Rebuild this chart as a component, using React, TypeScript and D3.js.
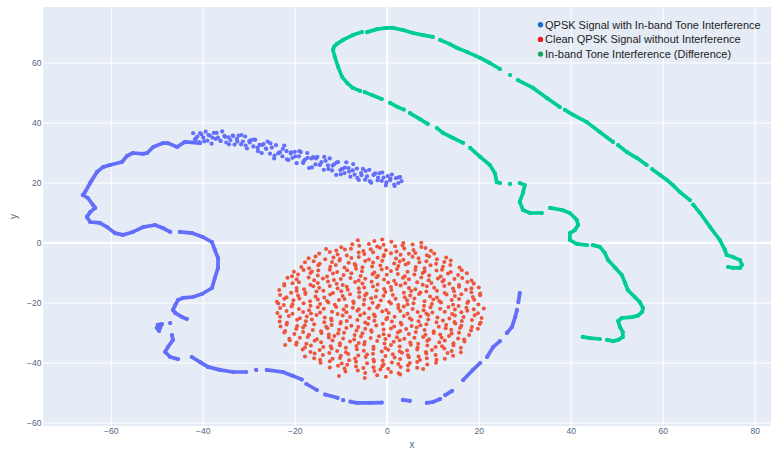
import React from "react";
import * as d3 from "d3";

type Pt = [number, number];

// Axis ticks
const xTicks = [-60, -40, -20, 0, 20, 40, 60, 80];
const yTicks = [-60, -40, -20, 0, 20, 40, 60];

// Legend entries
const seriesNames = [
  "QPSK Signal with In-band Tone Interference",
  "Clean QPSK Signal without Interference",
  "In-band Tone Interference (Difference)",
];
const legendColors = ["#1a6fcc", "#e81a1a", "#14a85a"];
const traceColors = ["#636EFA", "#EF553B", "#00CC96"];

// Interfered signal: dense band of scattered symbols near the top
const blueBand: Pt[] = [
  [-42.2, 36.6], [-41.8, 34.6], [-41.3, 35.5], [-40.9, 33.6], [-40.4, 36.2], [-40.0, 35.1], [-39.5, 37.1], [-39.1, 34.1],
  [-38.6, 35.8], [-38.2, 33.1], [-37.7, 36.7], [-37.3, 34.7], [-36.8, 35.1], [-36.3, 34.1], [-35.9, 37.2], [-35.4, 35.7],
  [-35.0, 33.5], [-34.5, 35.2], [-34.1, 34.3], [-33.6, 35.8], [-33.2, 32.8], [-32.7, 34.7], [-32.3, 35.8], [-31.8, 32.9],
  [-31.4, 33.8], [-30.9, 35.5], [-30.5, 31.5], [-30.0, 34.0], [-29.6, 34.3], [-29.1, 32.2], [-28.7, 34.4], [-28.2, 31.7],
  [-27.8, 32.7], [-27.3, 30.0], [-26.9, 33.0], [-26.4, 31.5], [-26.0, 33.8], [-25.5, 29.8], [-25.1, 31.8], [-24.6, 28.2],
  [-24.2, 32.6], [-23.7, 29.9], [-23.3, 30.3], [-22.8, 28.9], [-22.4, 32.5], [-21.9, 30.6], [-21.5, 27.7], [-21.0, 29.8],
  [-20.6, 28.4], [-20.1, 30.4], [-19.7, 26.6], [-19.2, 28.9], [-18.8, 30.3], [-18.3, 26.7], [-17.9, 27.8], [-17.4, 30.0],
  [-17.0, 25.0], [-16.5, 28.2], [-16.1, 28.6], [-15.6, 26.2], [-15.2, 28.7], [-14.7, 26.0], [-14.3, 27.0], [-13.8, 24.4],
  [-13.4, 27.4], [-12.9, 25.9], [-12.5, 28.2], [-12.0, 24.2], [-11.6, 26.2], [-11.1, 22.7], [-10.7, 27.0], [-10.2, 24.3],
  [-9.8, 24.7], [-9.3, 23.3], [-8.9, 26.9], [-8.4, 25.0], [-8.0, 22.1], [-7.5, 24.2], [-7.1, 22.8], [-6.6, 24.8],
  [-6.2, 21.0], [-5.7, 23.3], [-5.3, 24.7], [-4.8, 21.1], [-4.4, 22.2], [-3.9, 24.4], [-3.5, 20.1], [-3.0, 22.7],
  [-2.6, 23.2], [-2.1, 20.9], [-1.7, 23.3], [-1.2, 20.7], [-0.8, 21.8], [-0.3, 19.2], [0.1, 22.3], [0.6, 20.9],
  [1.0, 22.8], [1.5, 19.5], [1.9, 21.6], [2.4, 20.0], [2.8, 22.0], [3.1, 20.6],
  [-41.6, 34.8], [-40.7, 36.6], [-39.8, 33.9], [-38.9, 36.0], [-38.0, 35.1], [-37.1, 36.7], [-36.2, 34.0], [-35.3, 35.4],
  [-34.4, 32.9], [-33.5, 35.7], [-32.6, 33.8], [-31.7, 36.0], [-30.8, 32.5], [-29.9, 33.5], [-29.0, 34.5], [-28.1, 30.6],
  [-27.2, 32.7], [-26.3, 31.4], [-25.4, 33.2], [-24.5, 29.1], [-23.6, 30.0], [-22.7, 31.4], [-21.8, 27.9], [-20.9, 30.2],
  [-20.0, 28.9], [-19.1, 30.6], [-18.2, 27.2], [-17.3, 28.4], [-16.4, 25.2], [-15.5, 28.2], [-14.6, 26.2], [-13.7, 28.7],
  [-12.8, 24.7], [-11.9, 25.8], [-11.0, 26.8], [-10.1, 22.9], [-9.2, 25.1], [-8.3, 23.8], [-7.4, 26.3], [-6.5, 21.7],
  [-5.6, 22.6], [-4.7, 24.0], [-3.8, 20.6], [-2.9, 22.9], [-2.0, 21.8], [-1.1, 23.5], [-0.2, 20.2], [0.7, 21.5],
  [1.6, 19.0], [2.5, 21.9],
];

// Interfered signal: trajectory pieces
const blueRuns: Pt[][] = [
  [[-40.7, 33.3], [-44.0, 33.7], [-45.7, 32.0], [-47.7, 33.3], [-48.8, 33.3], [-50.9, 32.0], [-52.2, 30.0], [-53.1, 29.7],
   [-55.3, 30.0], [-56.6, 29.0], [-57.7, 27.0], [-60.3, 26.0], [-61.8, 25.3], [-63.1, 23.7], [-64.2, 21.0], [-64.6, 20.0],
   [-65.7, 17.0], [-66.2, 16.0], [-65.1, 15.0], [-64.0, 12.7], [-63.5, 11.7], [-64.6, 10.3], [-65.3, 8.7], [-64.6, 7.0],
   [-62.5, 6.7], [-60.9, 5.3], [-59.2, 3.3], [-57.5, 2.7], [-55.3, 3.7], [-53.1, 5.3], [-50.5, 6.0], [-48.8, 5.0], [-47.2, 3.7]],
  [[-45.1, 3.7], [-42.5, 3.3], [-40.1, 2.0], [-38.1, 0.3], [-37.5, -2.3], [-36.8, -5.0], [-36.8, -8.3], [-37.5, -11.7],
   [-38.1, -15.0], [-40.3, -17.0], [-42.3, -18.0], [-44.4, -18.3], [-45.5, -19.0], [-46.1, -20.7], [-46.6, -22.3],
   [-46.1, -23.3], [-44.6, -24.7], [-43.6, -25.3]],
  [[-49.9, -27.3], [-49.0, -27.0], [-49.4, -28.3], [-50.1, -28.3], [-49.6, -29.3]],
  [[-47.2, -26.7]],
  [[-46.8, -30.7], [-46.6, -32.3], [-47.7, -34.7], [-48.3, -36.3], [-47.2, -38.0], [-45.5, -38.7]],
  [[-42.5, -38.0], [-40.7, -39.7], [-39.0, -41.3], [-36.4, -42.3], [-33.5, -43.0], [-30.7, -43.0]],
  [[-28.5, -42.3]],
  [[-26.2, -42.3], [-22.7, -43.0], [-20.5, -44.3], [-18.6, -45.5]],
  [[-17.6, -47.0], [-15.3, -49.0]],
  [[-13.5, -50.5], [-10.8, -51.6]],
  [[-9.6, -52.4]],
  [[-8.0, -52.9], [-6.6, -53.3], [-3.8, -53.3], [-1.2, -53.2]],
  [[3.4, -52.3], [4.9, -52.6]],
  [[8.6, -53.3], [9.9, -53.0], [11.5, -52.0]],
  [[12.6, -50.7], [14.1, -49.3]],
  [[16.5, -45.7], [18.6, -42.3], [20.2, -40.0]],
  [[21.7, -38.0], [23.0, -34.7], [24.5, -32.7]],
  [[26.0, -30.0], [27.1, -28.0], [27.8, -24.7], [28.2, -22.3]],
  [[28.5, -19.7], [28.8, -16.7]],
];

// Clean constellation cloud, listed roughly top to bottom
const cleanPoints: Pt[] = [
  [-6.4, 0.9], [-2.8, 0.7], [-1.1, 1.2], [0.9, 0.4], [3.5, 0.0], [7.4, 0.1],
  [-10.0, -1.4], [-7.6, -0.4], [-6.1, -0.9], [-4.0, -0.3], [-2.2, -1.2], [-0.8, -0.6], [1.7, -1.1], [3.3, -0.8], [5.5, -0.5], [7.4, -1.3],
  [-13.3, -2.0], [-11.1, -2.5], [-9.2, -2.2], [-7.9, -1.9], [-5.2, -2.7], [-3.6, -2.1], [-1.6, -1.6], [-0.3, -2.4], [2.0, -2.8], [3.7, -1.8], [5.7, -2.3], [8.3, -1.7], [9.5, -2.6],
  [-14.8, -3.5], [-12.5, -3.0], [-10.8, -3.8], [-8.8, -4.2], [-6.2, -3.2], [-5.0, -3.7], [-3.1, -3.1], [-0.7, -4.0], [0.8, -3.4], [2.9, -3.9], [4.7, -3.6], [6.1, -3.3], [8.6, -4.1], [10.2, -3.5],
  [-17.1, -5.1], [-15.6, -4.5], [-13.5, -5.4], [-11.7, -4.8], [-10.3, -5.3], [-7.8, -5.0], [-6.2, -4.7], [-4.0, -5.5], [-2.1, -4.9], [-0.8, -4.4], [1.9, -5.2], [3.5, -5.6], [5.5, -4.6], [6.8, -5.1], [9.1, -4.5], [10.8, -5.4], [12.8, -4.8],
  [-17.9, -6.4], [-16.0, -6.1], [-14.7, -6.9], [-12.0, -6.3], [-10.4, -5.8], [-8.4, -6.6], [-7.1, -7.0], [-4.8, -6.0], [-3.1, -6.5], [-1.1, -5.9], [1.5, -6.8], [2.7, -6.2], [4.6, -6.7], [7.0, -6.4], [8.5, -6.1], [10.6, -6.9], [12.4, -6.3], [13.8, -5.8],
  [-18.7, -8.0], [-17.0, -8.4], [-15.0, -7.4], [-12.4, -7.9], [-11.2, -7.3], [-9.3, -8.2], [-6.9, -7.6], [-5.4, -8.1], [-3.3, -7.8], [-1.5, -7.5], [-0.1, -8.3], [2.4, -7.7], [4.0, -7.2], [6.2, -8.0], [8.1, -8.4], [9.4, -7.4], [12.1, -7.9], [13.7, -7.3], [15.7, -8.2],
  [-20.3, -9.6], [-18.2, -9.0], [-16.4, -9.5], [-15.0, -9.2], [-12.5, -8.9], [-10.9, -9.7], [-8.7, -9.1], [-6.8, -8.6], [-5.5, -9.4], [-2.8, -9.8], [-1.2, -8.8], [0.8, -9.3], [2.1, -8.7], [4.4, -9.6], [6.1, -9.0], [8.1, -9.5], [10.7, -9.2], [11.9, -8.9], [13.8, -9.7], [16.2, -9.1],
  [-20.7, -11.1], [-19.4, -10.5], [-16.7, -10.0], [-15.1, -10.8], [-13.1, -11.2], [-11.8, -10.2], [-9.5, -10.7], [-7.8, -10.1], [-5.8, -11.0], [-3.2, -10.4], [-2.0, -10.9], [-0.1, -10.6], [2.3, -10.3], [3.8, -11.1], [5.9, -10.5], [7.7, -10.0], [9.1, -10.8], [11.6, -11.2], [13.2, -10.2], [15.4, -10.7], [17.3, -10.1],
  [-21.7, -11.6], [-19.7, -12.1], [-17.1, -11.5], [-15.9, -12.4], [-14.0, -11.8], [-11.6, -12.3], [-10.1, -12.0], [-8.0, -11.7], [-6.2, -12.5], [-4.8, -11.9], [-2.3, -11.4], [-0.7, -12.2], [1.5, -12.6], [3.4, -11.6], [4.7, -12.1], [7.4, -11.5], [9.0, -12.4], [11.0, -11.8], [12.3, -12.3], [14.6, -12.0], [16.3, -11.7], [18.3, -12.5],
  [-22.4, -13.7], [-20.6, -13.4], [-19.2, -13.1], [-16.7, -13.9], [-15.1, -13.3], [-12.9, -12.8], [-11.0, -13.6], [-9.7, -14.0], [-7.0, -13.0], [-5.4, -13.5], [-3.4, -12.9], [-2.1, -13.8], [0.2, -13.2], [1.9, -13.7], [3.9, -13.4], [6.5, -13.1], [7.7, -13.9], [9.6, -13.3], [12.0, -12.8], [13.5, -13.6], [15.6, -14.0], [17.4, -13.0], [18.8, -13.5],
  [-22.4, -14.2], [-19.7, -15.0], [-18.1, -15.4], [-16.1, -14.4], [-14.8, -14.9], [-12.5, -14.3], [-10.8, -15.2], [-8.8, -14.6], [-6.2, -15.1], [-5.0, -14.8], [-3.1, -14.5], [-0.7, -15.3], [0.8, -14.7], [2.9, -14.2], [4.7, -15.0], [6.1, -15.4], [8.6, -14.4], [10.2, -14.9], [12.4, -14.3], [14.3, -15.2], [15.6, -14.6], [18.3, -15.1], [19.9, -14.8],
  [-23.5, -15.7], [-20.9, -16.6], [-19.7, -16.0], [-17.8, -16.5], [-15.4, -16.2], [-13.9, -15.9], [-11.8, -16.7], [-10.0, -16.1], [-8.6, -15.6], [-6.1, -16.4], [-4.5, -16.8], [-2.3, -15.8], [-0.4, -16.3], [0.9, -15.7], [3.6, -16.6], [5.2, -16.0], [7.2, -16.5], [8.5, -16.2], [10.8, -15.9], [12.5, -16.7], [14.5, -16.1], [17.1, -15.6], [18.3, -16.4], [20.2, -16.8],
  [-23.3, -17.3], [-21.9, -18.1], [-19.4, -17.5], [-17.8, -17.0], [-15.6, -17.8], [-13.7, -18.2], [-12.4, -17.2], [-9.7, -17.7], [-8.1, -17.1], [-6.1, -18.0], [-4.8, -17.4], [-2.5, -17.9], [-0.8, -17.6], [1.2, -17.3], [3.8, -18.1], [5.0, -17.5], [6.9, -17.0], [9.3, -17.8], [10.8, -18.2], [12.9, -17.2], [14.7, -17.7], [16.1, -17.1], [18.6, -18.0], [20.2, -17.4],
  [-24.0, -19.6], [-22.4, -18.6], [-20.4, -19.1], [-19.1, -18.5], [-16.8, -19.4], [-15.1, -18.8], [-13.1, -19.3], [-10.5, -19.0], [-9.3, -18.7], [-7.4, -19.5], [-5.0, -18.9], [-3.5, -18.4], [-1.4, -19.2], [0.4, -19.6], [1.8, -18.6], [4.3, -19.1], [5.9, -18.5], [8.1, -19.4], [10.0, -18.8], [11.3, -19.3], [14.0, -19.0], [15.6, -18.7], [17.6, -19.5], [18.9, -18.9],
  [-23.7, -20.2], [-22.5, -20.7], [-20.6, -20.4], [-18.2, -20.1], [-16.7, -20.9], [-14.6, -20.3], [-12.8, -19.8], [-11.4, -20.6], [-8.9, -21.0], [-7.3, -20.0], [-5.1, -20.5], [-3.2, -19.9], [-1.9, -20.8], [0.8, -20.2], [2.4, -20.7], [4.4, -20.4], [5.7, -20.1], [8.0, -20.9], [9.7, -20.3], [11.7, -19.8], [14.3, -20.6], [15.5, -21.0], [17.4, -20.0], [19.8, -20.5],
  [-23.3, -21.7], [-20.8, -21.2], [-19.2, -22.0], [-17.0, -22.4], [-15.1, -21.4], [-13.8, -21.9], [-11.1, -21.3], [-9.5, -22.2], [-7.5, -21.6], [-6.2, -22.1], [-3.9, -21.8], [-2.2, -21.5], [-0.2, -22.3], [2.4, -21.7], [3.6, -21.2], [5.5, -22.0], [7.9, -22.4], [9.4, -21.4], [11.5, -21.9], [13.3, -21.3], [14.7, -22.2], [17.2, -21.6], [18.8, -22.1], [21.0, -21.8],
  [-23.9, -23.3], [-21.9, -22.7], [-20.6, -23.6], [-18.3, -23.0], [-16.6, -23.5], [-14.6, -23.2], [-12.0, -22.9], [-10.8, -23.7], [-8.9, -23.1], [-6.5, -22.6], [-5.0, -23.4], [-2.9, -23.8], [-1.1, -22.8], [0.3, -23.3], [2.8, -22.7], [4.4, -23.6], [6.6, -23.0], [8.5, -23.5], [9.8, -23.2], [12.5, -22.9], [14.1, -23.7], [16.1, -23.1], [17.4, -22.6], [19.7, -23.4],
  [-23.3, -24.6], [-21.4, -24.3], [-19.0, -25.1], [-17.5, -24.5], [-15.4, -24.0], [-13.6, -24.8], [-12.2, -25.2], [-9.7, -24.2], [-8.1, -24.7], [-5.9, -24.1], [-4.0, -25.0], [-2.7, -24.4], [0.0, -24.9], [1.6, -24.6], [3.6, -24.3], [4.9, -25.1], [7.2, -24.5], [8.9, -24.0], [10.9, -24.8], [13.5, -25.2], [14.7, -24.2], [16.6, -24.7], [19.0, -24.1], [20.5, -25.0],
  [-23.4, -26.2], [-21.8, -26.6], [-19.6, -25.6], [-17.7, -26.1], [-16.4, -25.5], [-13.7, -26.4], [-12.1, -25.8], [-10.1, -26.3], [-8.8, -26.0], [-6.5, -25.7], [-4.8, -26.5], [-2.8, -25.9], [-0.2, -25.4], [1.0, -26.2], [2.9, -26.6], [5.3, -25.6], [6.8, -26.1], [8.9, -25.5], [10.7, -26.4], [12.1, -25.8], [14.6, -26.3], [16.2, -26.0], [18.4, -25.7], [20.3, -26.5],
  [-23.2, -27.8], [-21.9, -27.2], [-19.6, -27.7], [-17.9, -27.4], [-15.9, -27.1], [-13.3, -27.9], [-12.1, -27.3], [-10.2, -26.8], [-7.8, -27.6], [-6.3, -28.0], [-4.2, -27.0], [-2.4, -27.5], [-1.0, -26.9], [1.5, -27.8], [3.1, -27.2], [5.3, -27.7], [7.2, -27.4], [8.5, -27.1], [11.2, -27.9], [12.8, -27.3], [14.8, -26.8], [16.1, -27.6], [18.4, -28.0], [20.1, -27.0],
  [-22.2, -29.3], [-19.8, -28.7], [-18.3, -28.2], [-16.2, -29.0], [-14.4, -29.4], [-13.0, -28.4], [-10.5, -28.9], [-8.9, -28.3], [-6.7, -29.2], [-4.8, -28.6], [-3.5, -29.1], [-0.8, -28.8], [0.8, -28.5], [2.8, -29.3], [4.1, -28.7], [6.4, -28.2], [8.1, -29.0], [10.1, -29.4], [12.7, -28.4], [13.9, -28.9], [15.8, -28.3], [18.2, -29.2], [19.7, -28.6],
  [-22.4, -29.8], [-20.2, -30.3], [-18.3, -29.7], [-17.0, -30.6], [-14.3, -30.0], [-12.7, -30.5], [-10.7, -30.2], [-9.4, -29.9], [-7.1, -30.7], [-5.4, -30.1], [-3.4, -29.6], [-0.8, -30.4], [0.4, -30.8], [2.3, -29.8], [4.7, -30.3], [6.2, -29.7], [8.3, -30.6], [10.1, -30.0], [11.5, -30.5], [14.0, -30.2], [15.6, -29.9], [17.8, -30.7],
  [-21.3, -31.9], [-19.0, -31.6], [-17.3, -31.3], [-15.3, -32.1], [-12.7, -31.5], [-11.5, -31.0], [-9.6, -31.8], [-7.2, -32.2], [-5.7, -31.2], [-3.6, -31.7], [-1.8, -31.1], [-0.4, -32.0], [2.1, -31.4], [3.7, -31.9], [5.9, -31.6], [7.8, -31.3], [9.1, -32.1], [11.8, -31.5], [13.4, -31.0], [15.4, -31.8], [16.7, -32.2],
  [-21.2, -32.4], [-19.7, -33.2], [-17.6, -33.6], [-15.8, -32.6], [-14.4, -33.1], [-11.9, -32.5], [-10.3, -33.4], [-8.1, -32.8], [-6.2, -33.3], [-4.9, -33.0], [-2.2, -32.7], [-0.6, -33.5], [1.4, -32.9], [2.7, -32.4], [5.0, -33.2], [6.7, -33.6], [8.7, -32.6], [11.3, -33.1], [12.5, -32.5], [14.4, -33.4], [16.8, -32.8],
  [-22.2, -34.0], [-19.8, -33.9], [-17.9, -34.8], [-16.6, -34.2], [-13.9, -34.7], [-12.3, -34.4], [-10.3, -34.1], [-9.0, -34.9], [-6.7, -34.3], [-5.0, -33.8], [-3.0, -34.6], [-0.4, -35.0], [0.8, -34.0], [2.7, -34.5], [5.1, -33.9], [6.6, -34.8], [8.7, -34.2], [10.5, -34.7], [11.9, -34.4], [14.4, -34.1], [16.0, -34.9],
  [-18.4, -35.5], [-16.7, -36.3], [-14.7, -35.7], [-12.1, -35.2], [-10.9, -36.0], [-9.0, -36.4], [-6.6, -35.4], [-5.1, -35.9], [-3.0, -35.3], [-1.2, -36.2], [0.2, -35.6], [2.7, -36.1], [4.3, -35.8], [6.5, -35.5], [8.4, -36.3], [9.7, -35.7], [12.4, -35.2], [14.0, -36.0], [16.0, -36.4],
  [-17.9, -37.8], [-15.8, -36.8], [-14.0, -37.3], [-12.6, -36.7], [-10.1, -37.6], [-8.5, -37.0], [-6.3, -37.5], [-4.4, -37.2], [-3.1, -36.9], [-0.4, -37.7], [1.2, -37.1], [3.2, -36.6], [4.5, -37.4], [6.8, -37.8], [8.5, -36.8], [10.5, -37.3], [13.1, -36.7], [14.3, -37.6],
  [-15.9, -38.4], [-14.6, -38.9], [-11.9, -38.6], [-10.3, -38.3], [-8.3, -39.1], [-7.0, -38.5], [-4.7, -38.0], [-3.0, -38.8], [-1.0, -39.2], [1.6, -38.2], [2.8, -38.7], [4.7, -38.1], [7.1, -39.0], [8.6, -38.4], [10.7, -38.9], [12.5, -38.6],
  [-14.5, -39.9], [-12.5, -39.4], [-9.9, -40.2], [-8.7, -40.6], [-6.8, -39.6], [-4.4, -40.1], [-2.9, -39.5], [-0.8, -40.4], [1.0, -39.8], [2.4, -40.3], [4.9, -40.0], [6.5, -39.7], [8.7, -40.5], [10.6, -39.9],
  [-12.5, -41.5], [-10.7, -40.9], [-9.3, -41.8], [-6.8, -41.2], [-5.2, -41.7], [-3.0, -41.4], [-1.1, -41.1], [0.2, -41.9], [2.9, -41.3], [4.5, -40.8], [6.5, -41.6], [7.8, -42.0],
  [-9.1, -42.8], [-6.4, -42.5], [-4.8, -43.3], [-2.8, -42.7], [-1.5, -42.2], [0.8, -43.0], [2.5, -43.4], [4.5, -42.4],
  [-10.5, -44.3], [-4.9, -45.0], [-2.2, -44.1], [-0.3, -44.6], [2.8, -43.8],
];

// Interference (difference) trajectory pieces
const greenRuns: Pt[][] = [
  [[42.5, -31.3], [44.1, -31.7], [46.2, -32.0]],
  [[47.8, -32.3], [49.1, -32.7], [50.2, -32.3], [51.2, -31.3], [51.2, -29.7], [50.6, -28.0], [50.2, -26.0], [51.0, -25.0],
   [53.2, -24.7], [54.5, -24.2], [55.4, -23.0], [55.6, -21.7], [54.9, -19.7], [53.8, -18.0], [52.3, -15.7], [51.7, -13.3],
   [51.0, -10.7], [49.6, -8.3], [48.0, -5.7], [47.3, -3.3], [46.2, -1.3], [44.7, -0.7]],
  [[43.4, -0.7], [41.2, -0.3], [39.7, 1.0], [39.7, 3.3], [40.8, 4.3], [41.5, 6.0], [41.2, 7.7], [39.7, 10.0], [38.0, 11.0], [35.4, 11.7]],
  [[33.6, 10.0], [31.0, 10.0], [29.5, 11.0], [28.8, 13.7], [29.5, 16.7], [29.9, 19.3], [28.8, 20.0]],
  [[26.7, 19.7]],
  [[24.5, 20.0], [23.8, 20.3], [23.4, 23.3], [22.3, 26.0], [20.2, 28.7], [18.0, 31.7]],
  [[16.5, 33.4], [14.3, 35.0], [12.1, 36.7], [10.8, 38.3]],
  [[8.8, 39.7], [7.1, 41.3], [4.9, 43.3]],
  [[3.6, 44.5], [2.3, 45.3], [0.6, 46.7]],
  [[-1.2, 48.0], [-3.3, 49.3], [-4.9, 50.3]],
  [[-5.9, 50.7], [-7.5, 51.7], [-8.7, 53.3], [-9.8, 55.3], [-10.7, 58.7], [-11.4, 62.0], [-11.8, 64.3], [-11.6, 65.3],
   [-11.0, 66.3], [-9.6, 67.7], [-7.5, 69.3], [-5.5, 70.3]],
  [[-4.4, 70.3], [-2.2, 71.3], [-0.1, 71.7], [1.2, 71.7], [3.4, 71.0], [5.6, 70.0], [7.8, 69.3], [9.9, 68.7]],
  [[11.5, 67.7], [13.6, 66.3], [15.2, 65.0], [17.3, 63.7], [20.2, 61.7], [22.3, 60.0], [24.5, 58.0]],
  [[26.7, 56.0]],
  [[28.4, 54.3], [31.7, 51.7], [34.7, 48.3], [37.5, 45.3]],
  [[38.6, 44.4], [40.4, 42.7], [43.4, 40.3], [46.2, 37.0], [49.1, 33.7]],
  [[50.2, 32.6], [52.1, 30.3], [54.3, 28.3], [56.4, 26.0]],
  [[57.6, 24.6], [59.3, 22.7], [60.8, 21.0], [62.1, 19.3], [63.6, 17.0], [65.8, 14.3]],
  [[66.5, 12.8], [68.0, 10.0], [70.2, 5.3], [72.3, 1.0], [73.4, -2.3], [73.8, -4.0], [75.2, -4.7], [76.7, -5.7],
   [77.1, -7.3], [76.7, -8.3], [75.2, -8.3], [74.1, -8.0]],
];

const W = 771;
const H = 449;
const plot = { left: 43, top: 7, right: 781, bottom: 426 };
const FONT = "'Liberation Sans', Arial, Helvetica, sans-serif";
const AXIS_COLOR = "#506784";

const fmt = (v: number) => String(v).replace("-", "\u2212");

export default function App() {
  const x = d3.scaleLinear().domain([-74.85, 85.6]).range([plot.left, plot.right]);
  const y = d3.scaleLinear().domain([-61, 78.67]).range([plot.bottom, plot.top]);
  const line = d3
    .line<Pt>()
    .x((d) => x(d[0]))
    .y((d) => y(d[1]));

  const runLayer = (runs: Pt[][], color: string, key: string) => (
    <g key={key}>
      {runs.map((r, i) => (
        <path
          key={`l${i}`}
          d={line(r) || ""}
          fill="none"
          stroke={color}
          strokeWidth={3.7}
          strokeLinecap="round"
          strokeLinejoin="round"
        />
      ))}
      {runs.flat().map((p, i) => (
        <circle key={`c${i}`} cx={x(p[0])} cy={y(p[1])} r={2.1} fill={color} />
      ))}
    </g>
  );

  return (
    <svg
      width={W}
      height={H}
      style={{ position: "absolute", left: 0, top: 0, background: "#fff" }}
      fontFamily={FONT}
    >
      <defs>
        <clipPath id="plotClip">
          <rect x={plot.left} y={plot.top} width={plot.right - plot.left} height={plot.bottom - plot.top} />
        </clipPath>
      </defs>
      <rect
        x={plot.left}
        y={plot.top}
        width={plot.right - plot.left}
        height={plot.bottom - plot.top}
        fill="#E5ECF6"
      />
      {/* grid */}
      <g stroke="#fff">
        {xTicks.map((t) => (
          <line key={`gx${t}`} x1={x(t)} x2={x(t)} y1={plot.top} y2={plot.bottom} strokeWidth={t === 0 ? 2 : 1} />
        ))}
        {yTicks.map((t) => (
          <line key={`gy${t}`} x1={plot.left} x2={plot.right} y1={y(t)} y2={y(t)} strokeWidth={t === 0 ? 2 : 1} />
        ))}
      </g>

      {/* traces */}
      <g clipPath="url(#plotClip)">
        {runLayer(blueRuns, traceColors[0], "blueRuns")}
        <g>
          {blueBand.map((p, i) => (
            <circle key={i} cx={x(p[0])} cy={y(p[1])} r={2.1} fill={traceColors[0]} />
          ))}
        </g>
        <g>
          {cleanPoints.map((p, i) => (
            <circle key={i} cx={x(p[0])} cy={y(p[1])} r={2.0} fill={traceColors[1]} />
          ))}
        </g>
        {runLayer(greenRuns, traceColors[2], "greenRuns")}
      </g>

      {/* tick labels */}
      <g fontSize={8.5} fill={AXIS_COLOR}>
        {xTicks.map((t) => (
          <text key={`tx${t}`} x={x(t)} y={434} textAnchor="middle">
            {fmt(t)}
          </text>
        ))}
        {yTicks.map((t) => (
          <text key={`ty${t}`} x={41.5} y={y(t) + 3} textAnchor="end">
            {fmt(t)}
          </text>
        ))}
      </g>

      {/* axis titles */}
      <text x={(plot.left + plot.right) / 2} y={448} fontSize={10} fill={AXIS_COLOR} textAnchor="middle">
        x
      </text>
      <text
        transform={`translate(17, ${(plot.top + plot.bottom) / 2}) rotate(-90)`}
        fontSize={10}
        fill={AXIS_COLOR}
        textAnchor="middle"
      >
        y
      </text>

      {/* legend */}
      <g fontSize={11} fill="#222">
        {seriesNames.map((name, i) => (
          <g key={name} transform={`translate(540.5, ${24.7 + i * 14.7})`}>
            <circle cx={0} cy={0} r={2.7} fill={legendColors[i]} />
            <text x={4.5} y={4}>
              {name}
            </text>
          </g>
        ))}
      </g>
    </svg>
  );
}
